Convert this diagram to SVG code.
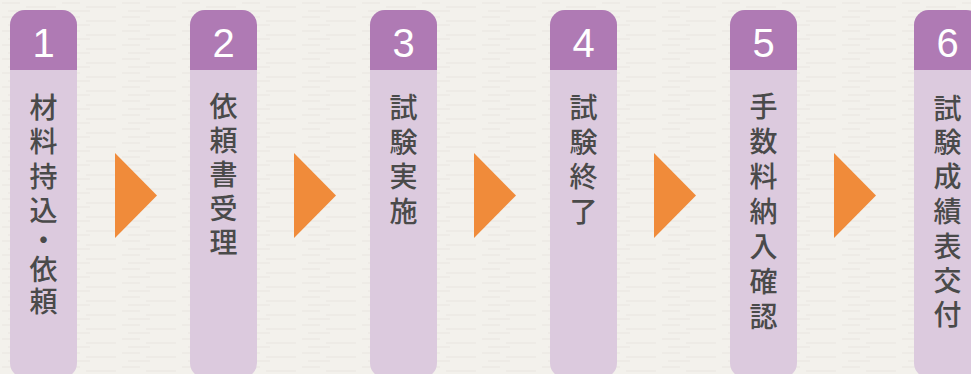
<svg xmlns="http://www.w3.org/2000/svg" width="971" height="374" viewBox="0 0 971 374">
  <style>
    .body { fill: #DCCADE; }
    .head { fill: #AF7AB4; }
    .num { font-family: "Liberation Sans", Arial, sans-serif; font-size: 40px; fill: #FFFFFF; text-anchor: middle; }
    .lbl { font-family: "Noto Sans CJK JP", "Noto Sans", sans-serif; font-size: 28px; font-weight: 500; fill: #4A4A4A; text-anchor: middle; dominant-baseline: central; }
    .arrow { fill: #F08B3A; }
  </style>
  <defs>
    <pattern id="tex" width="60" height="14" patternUnits="userSpaceOnUse">
      <rect width="60" height="14" fill="#F3F1EC"/>
      <path d="M2 3h18M26 7h30M8 11h22" stroke="#E9E6E0" stroke-width="1"/>
    </pattern>
  </defs>
  <rect x="0" y="0" width="971" height="374" fill="url(#tex)"/>

  <g id="step1">
    <rect class="body" x="10" y="10" width="67" height="368" rx="15"/>
    <path class="head" d="M10 70V25a15 15 0 0 1 15-15h37a15 15 0 0 1 15 15V70z"/>
    <text class="num" x="43.5" y="57">1</text>
    <text class="lbl" x="43.5" y="106">材</text>
    <text class="lbl" x="43.5" y="140">料</text>
    <text class="lbl" x="43.5" y="175">持</text>
    <text class="lbl" x="43.5" y="209">込</text>
    <text class="lbl" x="43.5" y="239">・</text>
    <text class="lbl" x="43.5" y="268">依</text>
    <text class="lbl" x="43.5" y="300">頼</text>
  </g>

  <g id="step2">
    <rect class="body" x="190" y="10" width="67" height="368" rx="15"/>
    <path class="head" d="M190 70V25a15 15 0 0 1 15-15h37a15 15 0 0 1 15 15V70z"/>
    <text class="num" x="223.5" y="57">2</text>
    <text class="lbl" x="223.5" y="105">依</text>
    <text class="lbl" x="223.5" y="139">頼</text>
    <text class="lbl" x="223.5" y="173">書</text>
    <text class="lbl" x="223.5" y="207">受</text>
    <text class="lbl" x="223.5" y="241">理</text>
  </g>

  <g id="step3">
    <rect class="body" x="370" y="10" width="67" height="368" rx="15"/>
    <path class="head" d="M370 70V25a15 15 0 0 1 15-15h37a15 15 0 0 1 15 15V70z"/>
    <text class="num" x="403.5" y="57">3</text>
    <text class="lbl" x="403.5" y="106">試</text>
    <text class="lbl" x="403.5" y="141">験</text>
    <text class="lbl" x="403.5" y="175">実</text>
    <text class="lbl" x="403.5" y="210">施</text>
  </g>

  <g id="step4">
    <rect class="body" x="550" y="10" width="67" height="368" rx="15"/>
    <path class="head" d="M550 70V25a15 15 0 0 1 15-15h37a15 15 0 0 1 15 15V70z"/>
    <text class="num" x="583.5" y="57">4</text>
    <text class="lbl" x="583.5" y="106">試</text>
    <text class="lbl" x="583.5" y="141">験</text>
    <text class="lbl" x="583.5" y="175">終</text>
    <text class="lbl" x="583.5" y="210">了</text>
  </g>

  <g id="step5">
    <rect class="body" x="730" y="10" width="67" height="368" rx="15"/>
    <path class="head" d="M730 70V25a15 15 0 0 1 15-15h37a15 15 0 0 1 15 15V70z"/>
    <text class="num" x="763.5" y="57">5</text>
    <text class="lbl" x="763.5" y="105">手</text>
    <text class="lbl" x="763.5" y="140">数</text>
    <text class="lbl" x="763.5" y="175">料</text>
    <text class="lbl" x="763.5" y="210">納</text>
    <text class="lbl" x="763.5" y="245">入</text>
    <text class="lbl" x="763.5" y="280">確</text>
    <text class="lbl" x="763.5" y="315">認</text>
  </g>

  <g id="step6">
    <rect class="body" x="914" y="10" width="67" height="368" rx="15"/>
    <path class="head" d="M914 70V25a15 15 0 0 1 15-15h37a15 15 0 0 1 15 15V70z"/>
    <text class="num" x="947.5" y="57">6</text>
    <text class="lbl" x="947.5" y="107">試</text>
    <text class="lbl" x="947.5" y="141">験</text>
    <text class="lbl" x="947.5" y="175">成</text>
    <text class="lbl" x="947.5" y="210">績</text>
    <text class="lbl" x="947.5" y="245">表</text>
    <text class="lbl" x="947.5" y="279">交</text>
    <text class="lbl" x="947.5" y="313">付</text>
  </g>

  <g id="connectors">
    <polygon class="arrow" points="115,153 157,195.5 115,238"/>
    <polygon class="arrow" points="294,153 336,195.5 294,238"/>
    <polygon class="arrow" points="474,153 516,195.5 474,238"/>
    <polygon class="arrow" points="654,153 696,195.5 654,238"/>
    <polygon class="arrow" points="834,153 876,195.5 834,238"/>
  </g>
</svg>
